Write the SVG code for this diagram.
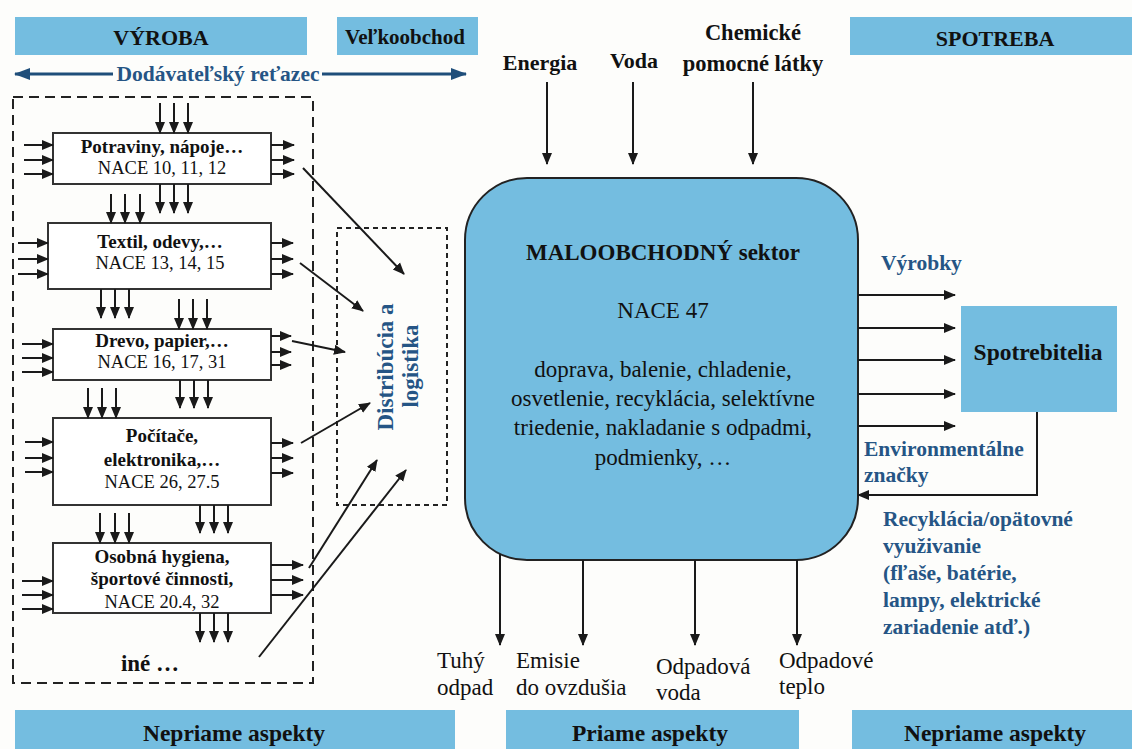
<svg xmlns="http://www.w3.org/2000/svg" width="1132" height="749" viewBox="0 0 1132 749">
<defs>
<marker id="ah" markerUnits="userSpaceOnUse" markerWidth="12" markerHeight="12" viewBox="0 0 12 12" refX="11" refY="6" orient="auto"><path d="M0,1 L12,6 L0,11 Z" fill="#1a1a1a"/></marker>
<marker id="ahb" markerUnits="userSpaceOnUse" markerWidth="16" markerHeight="14" viewBox="0 0 16 14" refX="15" refY="7" orient="auto-start-reverse"><path d="M0,1 L16,7 L0,13 Z" fill="#1f4e7a"/></marker>
</defs>
<style>
.bar{fill:#74bde0}
.bt{font-family:"Liberation Serif",serif;font-weight:bold;fill:#111;text-anchor:middle}
.t{font-family:"Liberation Serif",serif;fill:#111}
.b{font-weight:bold}
.blue{font-family:"Liberation Serif",serif;font-weight:bold;fill:#255585}
.box{fill:#fff;stroke:#333;stroke-width:2}
.a{stroke:#1a1a1a;stroke-width:2;fill:none;marker-end:url(#ah)}
.c{text-anchor:middle}
</style>
<rect width="1132" height="749" fill="#fdfdfb"/>

<g id="bar-vyroba"><rect class="bar" x="15" y="17" width="292" height="38"/><text class="bt" x="161" y="45" font-size="22">VÝROBA</text></g>
<g id="bar-velkoobchod"><rect class="bar" x="337" y="17" width="141" height="38"/><text class="bt" x="405" y="44" font-size="21">Veľkoobchod</text></g>
<g id="bar-spotreba"><rect class="bar" x="850" y="17" width="282" height="38"/><text class="bt" x="995" y="46" font-size="22">SPOTREBA</text></g>
<g id="bar-nepriame-l"><rect class="bar" x="15" y="710" width="440" height="39"/><text class="bt" x="234" y="741" font-size="23.5">Nepriame aspekty</text></g>
<g id="bar-priame"><rect class="bar" x="506" y="710" width="293" height="39"/><text class="bt" x="650" y="741" font-size="23.5">Priame aspekty</text></g>
<g id="bar-nepriame-r"><rect class="bar" x="852" y="710" width="280" height="39"/><text class="bt" x="995" y="741" font-size="23.5">Nepriame aspekty</text></g>

<g id="supply-chain">
<line x1="15" y1="74" x2="113" y2="74" stroke="#1f4e7a" stroke-width="3" marker-start="url(#ahb)"/>
<line x1="322" y1="74" x2="466" y2="74" stroke="#1f4e7a" stroke-width="3" marker-end="url(#ahb)"/>
<text class="blue c" x="218" y="81" font-size="21.5">Dodávateľský reťazec</text>
</g>

<g id="production-frame"><rect x="13" y="97" width="300" height="586" fill="none" stroke="#222" stroke-width="2" stroke-dasharray="10,6"/></g>

<g id="box-potraviny"><rect class="box" x="53" y="133" width="218" height="51"/>
<text class="t b c" x="162" y="153" font-size="19">Potraviny, nápoje…</text>
<text class="t c" x="162" y="174" font-size="18.5">NACE 10, 11, 12</text></g>
<g id="box-textil"><rect class="box" x="48" y="223" width="223" height="66"/>
<text class="t b c" x="160" y="248" font-size="19">Textil, odevy,…</text>
<text class="t c" x="160" y="269" font-size="18.5">NACE 13, 14, 15</text></g>
<g id="box-drevo"><rect class="box" x="53" y="329" width="218" height="51"/>
<text class="t b c" x="162" y="347" font-size="19">Drevo, papier,…</text>
<text class="t c" x="162" y="368" font-size="18.5">NACE 16, 17, 31</text></g>
<g id="box-pocitace"><rect class="box" x="53" y="418" width="218" height="87"/>
<text class="t b c" x="162" y="442" font-size="19">Počítače,</text>
<text class="t b c" x="162" y="466" font-size="19">elektronika,…</text>
<text class="t c" x="162" y="488" font-size="18.5">NACE 26, 27.5</text></g>
<g id="box-hygiena"><rect class="box" x="53" y="543" width="218" height="70"/>
<text class="t b c" x="162" y="563" font-size="19">Osobná hygiena,</text>
<text class="t b c" x="162" y="585" font-size="19">športové činnosti,</text>
<text class="t c" x="162" y="608" font-size="18.5">NACE 20.4, 32</text></g>
<g id="ine"><text class="t b c" x="150" y="671" font-size="23">iné …</text></g>

<g id="distribucia"><rect x="337" y="228" width="110" height="277" fill="none" stroke="#222" stroke-width="2" stroke-dasharray="5,4"/>
<text class="blue c" font-size="23" transform="translate(393,367) rotate(-90)">Distribúcia a</text>
<text class="blue c" font-size="23" transform="translate(418,366) rotate(-90)">logistika</text></g>

<g id="maloobchod"><rect x="465" y="178" width="393" height="382" rx="62" ry="62" fill="#74bde0" stroke="#222" stroke-width="2"/>
<text class="t b c" x="663" y="260" font-size="23">MALOOBCHODNÝ sektor</text>
<text class="t c" x="663" y="318" font-size="23">NACE 47</text>
<text class="t c" x="663" y="377" font-size="23">doprava, balenie, chladenie,</text>
<text class="t c" x="663" y="406" font-size="23">osvetlenie, recyklácia, selektívne</text>
<text class="t c" x="663" y="435" font-size="23">triedenie, nakladanie s odpadmi,</text>
<text class="t c" x="663" y="465" font-size="23">podmienky, …</text></g>

<g id="spotrebitelia"><rect class="bar" x="961" y="306" width="156" height="106"/>
<text class="bt" x="1038" y="360" font-size="23.5">Spotrebitelia</text></g>

<g id="inputs-labels">
<text class="bt" x="540" y="70" font-size="22">Energia</text>
<text class="bt" x="634" y="68" font-size="22">Voda</text>
<text class="bt" x="753" y="40" font-size="22.5">Chemické</text>
<text class="bt" x="753" y="71" font-size="22.5">pomocné látky</text>
</g>

<g id="output-labels">
<text class="t" x="437" y="668" font-size="23">Tuhý</text>
<text class="t" x="437" y="695" font-size="23">odpad</text>
<text class="t" x="516" y="668" font-size="23">Emisie</text>
<text class="t" x="516" y="695" font-size="23">do ovzdušia</text>
<text class="t" x="656" y="674" font-size="23">Odpadová</text>
<text class="t" x="656" y="700" font-size="23">voda</text>
<text class="t" x="779" y="668" font-size="23">Odpadové</text>
<text class="t" x="779" y="694" font-size="23">teplo</text>
</g>

<g id="right-labels">
<text class="blue" x="881" y="270" font-size="21.5">Výrobky</text>
<text class="blue" x="864" y="456" font-size="21.5">Environmentálne</text>
<text class="blue" x="864" y="482" font-size="21.5">značky</text>
<text class="blue" x="883" y="526" font-size="21.5">Recyklácia/opätovné</text>
<text class="blue" x="883" y="553" font-size="21.5">využivanie</text>
<text class="blue" x="883" y="580" font-size="21.5">(fľaše, batérie,</text>
<text class="blue" x="883" y="607" font-size="21.5">lampy, elektrické</text>
<text class="blue" x="883" y="634" font-size="21.5">zariadenie atď.)</text>
</g>

<g id="connectors">
<line class="a" x1="160" y1="103" x2="160" y2="133"/><line class="a" x1="174" y1="103" x2="174" y2="133"/><line class="a" x1="188" y1="103" x2="188" y2="133"/>
<line class="a" x1="24" y1="145" x2="53" y2="145"/><line class="a" x1="24" y1="160" x2="53" y2="160"/><line class="a" x1="24" y1="174" x2="53" y2="174"/>
<line class="a" x1="271" y1="145" x2="294" y2="145"/><line class="a" x1="271" y1="160" x2="294" y2="160"/><line class="a" x1="271" y1="174" x2="294" y2="174"/>
<line class="a" x1="111" y1="194" x2="111" y2="223"/><line class="a" x1="125" y1="194" x2="125" y2="223"/><line class="a" x1="140" y1="194" x2="140" y2="223"/>
<line class="a" x1="160" y1="184" x2="160" y2="213"/><line class="a" x1="174" y1="184" x2="174" y2="213"/><line class="a" x1="188" y1="184" x2="188" y2="213"/>
<line class="a" x1="18" y1="243" x2="48" y2="243"/><line class="a" x1="18" y1="259" x2="48" y2="259"/><line class="a" x1="18" y1="274" x2="48" y2="274"/>
<line class="a" x1="271" y1="243" x2="293" y2="243"/><line class="a" x1="271" y1="259" x2="293" y2="259"/><line class="a" x1="271" y1="274" x2="293" y2="274"/>
<line class="a" x1="101" y1="289" x2="101" y2="318"/><line class="a" x1="115" y1="289" x2="115" y2="318"/><line class="a" x1="129" y1="289" x2="129" y2="318"/>
<line class="a" x1="179" y1="299" x2="179" y2="329"/><line class="a" x1="193" y1="299" x2="193" y2="329"/><line class="a" x1="207" y1="299" x2="207" y2="329"/>
<line class="a" x1="22" y1="344" x2="53" y2="344"/><line class="a" x1="22" y1="358" x2="53" y2="358"/><line class="a" x1="22" y1="372" x2="53" y2="372"/>
<line class="a" x1="271" y1="336" x2="291" y2="336"/><line class="a" x1="271" y1="352" x2="291" y2="352"/><line class="a" x1="271" y1="365" x2="291" y2="365"/>
<line class="a" x1="88" y1="388" x2="88" y2="418"/><line class="a" x1="102" y1="388" x2="102" y2="418"/><line class="a" x1="116" y1="388" x2="116" y2="418"/>
<line class="a" x1="180" y1="380" x2="180" y2="408"/><line class="a" x1="194" y1="380" x2="194" y2="408"/><line class="a" x1="208" y1="380" x2="208" y2="408"/>
<line class="a" x1="25" y1="442" x2="53" y2="442"/><line class="a" x1="25" y1="458" x2="53" y2="458"/><line class="a" x1="25" y1="472" x2="53" y2="472"/>
<line class="a" x1="271" y1="443" x2="293" y2="443"/><line class="a" x1="271" y1="458" x2="293" y2="458"/><line class="a" x1="271" y1="473" x2="293" y2="473"/>
<line class="a" x1="100" y1="513" x2="100" y2="543"/><line class="a" x1="115" y1="513" x2="115" y2="543"/><line class="a" x1="129" y1="513" x2="129" y2="543"/>
<line class="a" x1="200" y1="505" x2="200" y2="533"/><line class="a" x1="214" y1="505" x2="214" y2="533"/><line class="a" x1="228" y1="505" x2="228" y2="533"/>
<line class="a" x1="22" y1="581" x2="53" y2="581"/><line class="a" x1="22" y1="595" x2="53" y2="595"/><line class="a" x1="22" y1="609" x2="53" y2="609"/>
<line class="a" x1="271" y1="565" x2="303" y2="565"/><line class="a" x1="271" y1="580" x2="303" y2="580"/><line class="a" x1="271" y1="595" x2="303" y2="595"/>
<line class="a" x1="200" y1="613" x2="200" y2="642"/><line class="a" x1="214" y1="613" x2="214" y2="642"/><line class="a" x1="228" y1="613" x2="228" y2="642"/>
<line class="a" x1="303" y1="168" x2="404" y2="274"/>
<line class="a" x1="300" y1="263" x2="363" y2="311"/>
<line class="a" x1="292" y1="341" x2="345" y2="352"/>
<line class="a" x1="301" y1="443" x2="370" y2="403"/>
<line class="a" x1="309" y1="568" x2="377" y2="460"/>
<line class="a" x1="259" y1="657" x2="406" y2="470"/>
<line class="a" x1="547" y1="82" x2="547" y2="164"/>
<line class="a" x1="633" y1="82" x2="633" y2="164"/>
<line class="a" x1="753" y1="82" x2="753" y2="164"/>
<line class="a" x1="500" y1="554" x2="500" y2="645"/>
<line class="a" x1="583" y1="560" x2="583" y2="645"/>
<line class="a" x1="695" y1="560" x2="695" y2="645"/>
<line class="a" x1="797" y1="560" x2="797" y2="645"/>
<line class="a" x1="858" y1="295" x2="955" y2="295"/>
<line class="a" x1="858" y1="328" x2="955" y2="328"/>
<line class="a" x1="858" y1="360" x2="955" y2="360"/>
<line class="a" x1="858" y1="394" x2="955" y2="394"/>
<line class="a" x1="858" y1="426" x2="955" y2="426"/>
<polyline class="a" points="1037,412 1037,495 858,495"/>
</g>
</svg>
